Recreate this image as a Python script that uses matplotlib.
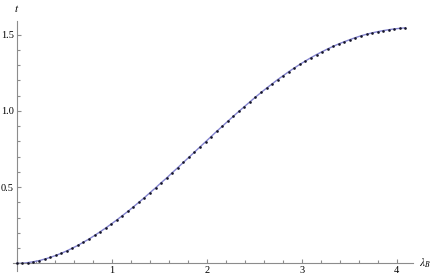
import numpy as np
import matplotlib
matplotlib.use('Agg')
import matplotlib.pyplot as plt
from matplotlib import ticker

lam = [0.000, 0.058, 0.117, 0.175, 0.234, 0.292, 0.351, 0.409, 0.467, 0.526,
       0.584, 0.643, 0.701, 0.760, 0.818, 0.876, 0.935, 0.993, 1.052, 1.110,
       1.169, 1.227, 1.285, 1.344, 1.402, 1.461, 1.519, 1.578, 1.636, 1.694,
       1.753, 1.811, 1.870, 1.928, 1.987, 2.045, 2.103, 2.162, 2.220, 2.279,
       2.337, 2.396, 2.454, 2.512, 2.571, 2.629, 2.688, 2.746, 2.805, 2.863,
       2.921, 2.980, 3.038, 3.097, 3.155, 3.214, 3.272, 3.330, 3.389, 3.447,
       3.506, 3.564, 3.623, 3.681, 3.739, 3.798, 3.856, 3.915, 3.973, 4.032,
       4.090]
t = [0.000, 0.001, 0.005, 0.011, 0.018, 0.028, 0.039, 0.052, 0.066, 0.082,
     0.100, 0.118, 0.139, 0.160, 0.183, 0.207, 0.232, 0.258, 0.285, 0.313,
     0.341, 0.371, 0.401, 0.432, 0.464, 0.496, 0.529, 0.561, 0.595, 0.628,
     0.662, 0.696, 0.730, 0.764, 0.798, 0.832, 0.866, 0.899, 0.932, 0.965,
     0.997, 1.029, 1.060, 1.091, 1.121, 1.150, 1.178, 1.206, 1.232, 1.258,
     1.282, 1.306, 1.328, 1.350, 1.370, 1.389, 1.407, 1.424, 1.440, 1.454,
     1.468, 1.481, 1.493, 1.503, 1.512, 1.520, 1.527, 1.533, 1.538, 1.542,
     1.545]

x_ticks = [1, 2, 3, 4]
y_ticks = [0.5, 1.0, 1.5]

plt.rcParams['font.family'] = ['Liberation Serif', 'DejaVu Serif']
plt.rcParams['mathtext.fontset'] = 'stix'

axis_grey = '#8c8c8c'

fig = plt.figure(figsize=(4.36, 2.78), dpi=100)
ax = fig.add_axes([13 / 436, 7 / 278, 400 / 436, 250 / 278])

ax.plot(lam, t, color='#8585d0', lw=1.0, zorder=2)
ax.plot(lam, t, 'o', color='#141428', ms=1.9, mew=0, zorder=3)

ax.set_xlim(-0.04, 4.17)
ax.set_ylim(-0.05, 1.59)

for side in ['top', 'right']:
    ax.spines[side].set_visible(False)
ax.spines['left'].set_position(('data', 0))
ax.spines['bottom'].set_position(('data', 0))
for side in ['left', 'bottom']:
    ax.spines[side].set_color(axis_grey)
    ax.spines[side].set_linewidth(0.8)

ax.xaxis.set_major_locator(ticker.FixedLocator(x_ticks))
ax.xaxis.set_minor_locator(ticker.MultipleLocator(0.2))
ax.yaxis.set_major_locator(ticker.FixedLocator(y_ticks))
ax.yaxis.set_minor_locator(ticker.MultipleLocator(0.1))
ax.yaxis.set_major_formatter(ticker.FormatStrFormatter('%.1f'))

ax.tick_params(which='both', direction='in', color=axis_grey, width=0.8,
               labelsize=7.5, labelcolor='black')
ax.tick_params(which='major', length=3.2, pad=2)
ax.tick_params(which='minor', length=2.0)
ax.set_facecolor('none')

ax.text(0, 1.635, '$t$', ha='center', va='bottom', fontsize=8,
        transform=ax.transData, clip_on=False)
ax.text(4.23, 0, r'$\lambda_B$', ha='left', va='center', fontsize=8,
        transform=ax.transData, clip_on=False)

fig.savefig('out.png', dpi=100)
